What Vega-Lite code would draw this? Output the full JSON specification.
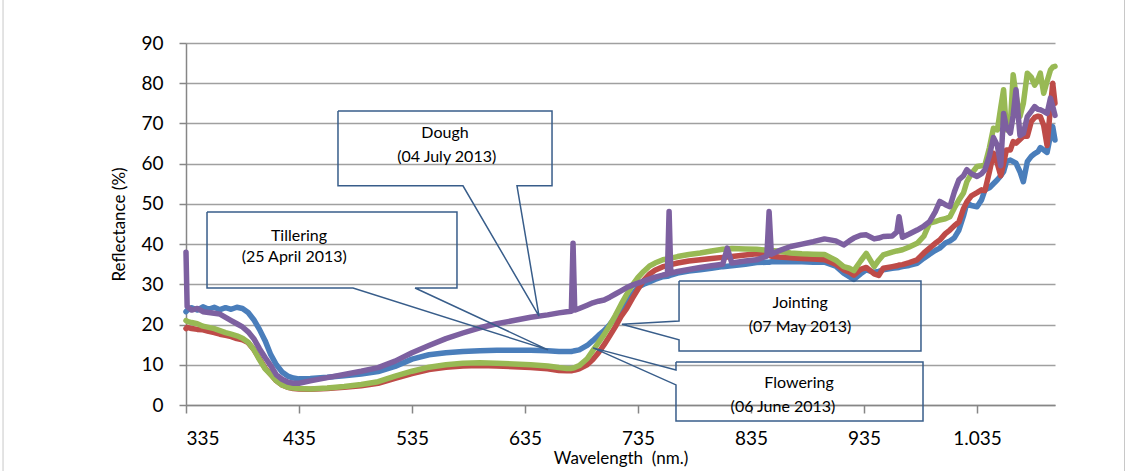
{
  "$schema": "https://vega.github.io/schema/vega-lite/v6.json",
  "width": 869,
  "height": 362,
  "autosize": {"type": "none"},
  "padding": {"left": 186, "top": 43, "right": 73, "bottom": 66},
  "background": "white",
  "config": {"view": {"stroke": null}, "font": "Lato"},
  "datasets": {
    "spectra": [
      {"w":335,"Tillering":23.2,"Jointing":19.0,"Flowering":21.0,"Dough":38.0},
      {"w":336,"Tillering":23.5,"Jointing":19.3,"Flowering":20.8,"Dough":24.5},
      {"w":340,"Tillering":24.2,"Jointing":19.0,"Flowering":20.5,"Dough":23.6},
      {"w":345,"Tillering":23.6,"Jointing":18.8,"Flowering":20.2,"Dough":24.0},
      {"w":350,"Tillering":24.4,"Jointing":18.7,"Flowering":19.6,"Dough":23.2},
      {"w":355,"Tillering":23.8,"Jointing":18.3,"Flowering":19.3,"Dough":23.0},
      {"w":360,"Tillering":24.3,"Jointing":18.0,"Flowering":19.0,"Dough":22.8},
      {"w":365,"Tillering":23.7,"Jointing":17.6,"Flowering":18.5,"Dough":22.6},
      {"w":370,"Tillering":24.2,"Jointing":17.3,"Flowering":18.0,"Dough":21.8},
      {"w":375,"Tillering":23.8,"Jointing":17.0,"Flowering":17.6,"Dough":21.0},
      {"w":380,"Tillering":24.3,"Jointing":16.5,"Flowering":17.2,"Dough":20.2},
      {"w":385,"Tillering":24.0,"Jointing":16.2,"Flowering":16.6,"Dough":19.4},
      {"w":390,"Tillering":23.0,"Jointing":15.5,"Flowering":15.6,"Dough":18.2},
      {"w":395,"Tillering":21.2,"Jointing":13.8,"Flowering":13.8,"Dough":16.5},
      {"w":400,"Tillering":18.8,"Jointing":11.5,"Flowering":11.3,"Dough":14.0},
      {"w":405,"Tillering":16.0,"Jointing":9.2,"Flowering":9.0,"Dough":11.8},
      {"w":410,"Tillering":12.5,"Jointing":7.6,"Flowering":7.6,"Dough":9.8},
      {"w":415,"Tillering":10.0,"Jointing":6.0,"Flowering":6.0,"Dough":7.5},
      {"w":420,"Tillering":8.2,"Jointing":5.0,"Flowering":5.0,"Dough":6.4},
      {"w":425,"Tillering":7.2,"Jointing":4.4,"Flowering":4.4,"Dough":5.7},
      {"w":430,"Tillering":6.7,"Jointing":4.1,"Flowering":4.2,"Dough":5.4},
      {"w":435,"Tillering":6.5,"Jointing":4.0,"Flowering":4.1,"Dough":5.4},
      {"w":445,"Tillering":6.6,"Jointing":3.9,"Flowering":4.0,"Dough":6.0},
      {"w":460,"Tillering":6.9,"Jointing":4.1,"Flowering":4.2,"Dough":6.8},
      {"w":475,"Tillering":7.3,"Jointing":4.4,"Flowering":4.6,"Dough":7.6},
      {"w":490,"Tillering":7.7,"Jointing":4.8,"Flowering":5.1,"Dough":8.4},
      {"w":505,"Tillering":8.3,"Jointing":5.4,"Flowering":5.8,"Dough":9.3},
      {"w":520,"Tillering":9.6,"Jointing":6.6,"Flowering":7.2,"Dough":10.9},
      {"w":535,"Tillering":11.4,"Jointing":7.8,"Flowering":8.4,"Dough":13.0},
      {"w":550,"Tillering":12.5,"Jointing":8.8,"Flowering":9.4,"Dough":14.8},
      {"w":565,"Tillering":13.0,"Jointing":9.4,"Flowering":10.0,"Dough":16.5},
      {"w":580,"Tillering":13.3,"Jointing":9.7,"Flowering":10.4,"Dough":17.9},
      {"w":595,"Tillering":13.5,"Jointing":9.8,"Flowering":10.5,"Dough":19.2},
      {"w":610,"Tillering":13.6,"Jointing":9.7,"Flowering":10.4,"Dough":20.2},
      {"w":625,"Tillering":13.6,"Jointing":9.5,"Flowering":10.2,"Dough":21.0},
      {"w":640,"Tillering":13.6,"Jointing":9.3,"Flowering":10.0,"Dough":21.8},
      {"w":655,"Tillering":13.5,"Jointing":9.0,"Flowering":9.7,"Dough":22.4},
      {"w":665,"Tillering":13.3,"Jointing":8.6,"Flowering":9.3,"Dough":22.9},
      {"w":672,"Tillering":13.3,"Jointing":8.5,"Flowering":9.1,"Dough":23.2},
      {"w":676,"Tillering":13.3,"Jointing":8.5,"Flowering":9.1,"Dough":23.3},
      {"w":677.5,"Tillering":13.4,"Jointing":8.6,"Flowering":9.2,"Dough":40.2},
      {"w":679,"Tillering":13.5,"Jointing":8.7,"Flowering":9.3,"Dough":23.6},
      {"w":683,"Tillering":13.7,"Jointing":9.0,"Flowering":9.8,"Dough":24.0},
      {"w":690,"Tillering":14.8,"Jointing":10.0,"Flowering":11.5,"Dough":24.8},
      {"w":695,"Tillering":16.0,"Jointing":11.3,"Flowering":13.5,"Dough":25.4},
      {"w":700,"Tillering":17.3,"Jointing":13.0,"Flowering":15.5,"Dough":25.8},
      {"w":705,"Tillering":18.5,"Jointing":15.0,"Flowering":17.5,"Dough":26.1},
      {"w":710,"Tillering":20.0,"Jointing":17.2,"Flowering":19.8,"Dough":26.8},
      {"w":715,"Tillering":21.8,"Jointing":19.5,"Flowering":22.3,"Dough":27.6},
      {"w":720,"Tillering":23.5,"Jointing":22.0,"Flowering":25.0,"Dough":28.4},
      {"w":725,"Tillering":25.3,"Jointing":24.0,"Flowering":27.5,"Dough":29.2},
      {"w":730,"Tillering":27.5,"Jointing":26.5,"Flowering":29.8,"Dough":29.8},
      {"w":735,"Tillering":29.3,"Jointing":28.8,"Flowering":31.7,"Dough":30.3},
      {"w":740,"Tillering":30.0,"Jointing":31.0,"Flowering":33.2,"Dough":30.8},
      {"w":745,"Tillering":30.6,"Jointing":32.5,"Flowering":34.5,"Dough":31.3},
      {"w":750,"Tillering":31.2,"Jointing":33.5,"Flowering":35.3,"Dough":31.8},
      {"w":757,"Tillering":31.9,"Jointing":34.4,"Flowering":36.1,"Dough":32.3},
      {"w":761,"Tillering":32.0,"Jointing":34.6,"Flowering":36.3,"Dough":32.5},
      {"w":762.5,"Tillering":32.1,"Jointing":34.7,"Flowering":36.4,"Dough":48.1},
      {"w":764,"Tillering":32.3,"Jointing":34.9,"Flowering":36.5,"Dough":32.8},
      {"w":770,"Tillering":32.8,"Jointing":35.3,"Flowering":36.9,"Dough":33.2},
      {"w":780,"Tillering":33.3,"Jointing":35.8,"Flowering":37.4,"Dough":33.7},
      {"w":790,"Tillering":33.6,"Jointing":36.1,"Flowering":37.8,"Dough":34.2},
      {"w":800,"Tillering":34.0,"Jointing":36.4,"Flowering":38.3,"Dough":34.6},
      {"w":810,"Tillering":34.4,"Jointing":36.7,"Flowering":38.7,"Dough":35.0},
      {"w":814,"Tillering":34.5,"Jointing":36.8,"Flowering":38.8,"Dough":39.0},
      {"w":818,"Tillering":34.6,"Jointing":36.9,"Flowering":38.9,"Dough":35.3},
      {"w":830,"Tillering":35.0,"Jointing":37.3,"Flowering":38.8,"Dough":35.8},
      {"w":840,"Tillering":35.4,"Jointing":37.6,"Flowering":38.7,"Dough":36.1},
      {"w":849,"Tillering":35.5,"Jointing":37.4,"Flowering":38.5,"Dough":37.0},
      {"w":851,"Tillering":35.5,"Jointing":37.2,"Flowering":38.5,"Dough":48.1},
      {"w":853,"Tillering":35.6,"Jointing":37.0,"Flowering":38.4,"Dough":37.5},
      {"w":860,"Tillering":35.6,"Jointing":36.8,"Flowering":38.2,"Dough":38.4},
      {"w":870,"Tillering":35.6,"Jointing":36.6,"Flowering":37.8,"Dough":39.4},
      {"w":880,"Tillering":35.6,"Jointing":36.4,"Flowering":37.6,"Dough":40.0},
      {"w":890,"Tillering":35.5,"Jointing":36.3,"Flowering":37.5,"Dough":40.6},
      {"w":900,"Tillering":35.5,"Jointing":36.1,"Flowering":37.4,"Dough":41.3},
      {"w":910,"Tillering":34.5,"Jointing":35.0,"Flowering":36.0,"Dough":40.8},
      {"w":917,"Tillering":32.8,"Jointing":33.6,"Flowering":34.4,"Dough":39.8},
      {"w":922,"Tillering":31.9,"Jointing":33.0,"Flowering":34.0,"Dough":40.8},
      {"w":926,"Tillering":31.2,"Jointing":32.3,"Flowering":33.4,"Dough":41.5},
      {"w":932,"Tillering":32.6,"Jointing":33.7,"Flowering":35.8,"Dough":42.2},
      {"w":937,"Tillering":33.6,"Jointing":34.2,"Flowering":37.7,"Dough":42.3},
      {"w":944,"Tillering":33.0,"Jointing":32.6,"Flowering":34.4,"Dough":41.3},
      {"w":948,"Tillering":33.2,"Jointing":32.2,"Flowering":36.0,"Dough":41.5},
      {"w":952,"Tillering":33.6,"Jointing":34.0,"Flowering":37.3,"Dough":41.9},
      {"w":960,"Tillering":34.0,"Jointing":34.4,"Flowering":38.0,"Dough":42.0},
      {"w":964,"Tillering":34.1,"Jointing":34.6,"Flowering":38.3,"Dough":43.0},
      {"w":966,"Tillering":34.2,"Jointing":34.8,"Flowering":38.4,"Dough":46.8},
      {"w":969,"Tillering":34.4,"Jointing":34.9,"Flowering":38.6,"Dough":41.7},
      {"w":975,"Tillering":34.7,"Jointing":35.4,"Flowering":39.3,"Dough":42.5},
      {"w":982,"Tillering":35.2,"Jointing":36.1,"Flowering":40.2,"Dough":43.5},
      {"w":988,"Tillering":36.5,"Jointing":37.8,"Flowering":42.0,"Dough":44.5},
      {"w":993,"Tillering":37.5,"Jointing":39.0,"Flowering":45.2,"Dough":45.6},
      {"w":998,"Tillering":38.4,"Jointing":40.2,"Flowering":45.6,"Dough":48.0},
      {"w":1002,"Tillering":39.0,"Jointing":41.0,"Flowering":46.0,"Dough":50.6},
      {"w":1007,"Tillering":40.3,"Jointing":42.6,"Flowering":46.3,"Dough":49.8},
      {"w":1011,"Tillering":40.8,"Jointing":43.5,"Flowering":46.8,"Dough":49.3},
      {"w":1015,"Tillering":41.6,"Jointing":44.6,"Flowering":49.0,"Dough":53.0},
      {"w":1019,"Tillering":43.5,"Jointing":45.5,"Flowering":51.0,"Dough":56.0},
      {"w":1023,"Tillering":47.0,"Jointing":48.8,"Flowering":52.7,"Dough":57.0},
      {"w":1026,"Tillering":50.2,"Jointing":50.5,"Flowering":55.5,"Dough":58.5},
      {"w":1030,"Tillering":49.6,"Jointing":52.0,"Flowering":57.5,"Dough":57.5},
      {"w":1035,"Tillering":49.3,"Jointing":52.8,"Flowering":59.3,"Dough":56.8},
      {"w":1039,"Tillering":51.0,"Jointing":53.5,"Flowering":59.5,"Dough":57.5},
      {"w":1042,"Tillering":53.5,"Jointing":53.3,"Flowering":59.7,"Dough":58.5},
      {"w":1046,"Tillering":54.0,"Jointing":58.0,"Flowering":64.0,"Dough":62.0},
      {"w":1049.5,"Tillering":55.0,"Jointing":62.6,"Flowering":68.8,"Dough":66.5},
      {"w":1053,"Tillering":56.0,"Jointing":60.0,"Flowering":68.4,"Dough":64.5},
      {"w":1056,"Tillering":57.0,"Jointing":57.0,"Flowering":74.0,"Dough":59.5},
      {"w":1058.5,"Tillering":58.0,"Jointing":60.0,"Flowering":78.4,"Dough":72.5},
      {"w":1061,"Tillering":60.5,"Jointing":63.4,"Flowering":68.4,"Dough":69.0},
      {"w":1064.5,"Tillering":60.9,"Jointing":63.4,"Flowering":70.0,"Dough":67.6},
      {"w":1067,"Tillering":60.5,"Jointing":65.5,"Flowering":82.1,"Dough":72.0},
      {"w":1069.5,"Tillering":60.1,"Jointing":65.1,"Flowering":77.0,"Dough":78.4},
      {"w":1073,"Tillering":58.0,"Jointing":66.0,"Flowering":71.7,"Dough":67.0},
      {"w":1076,"Tillering":55.5,"Jointing":66.8,"Flowering":75.0,"Dough":67.5},
      {"w":1079.5,"Tillering":60.5,"Jointing":66.8,"Flowering":82.5,"Dough":71.7},
      {"w":1083,"Tillering":61.8,"Jointing":70.5,"Flowering":81.5,"Dough":73.0},
      {"w":1086,"Tillering":62.5,"Jointing":71.5,"Flowering":79.5,"Dough":74.2},
      {"w":1089,"Tillering":63.0,"Jointing":71.8,"Flowering":81.0,"Dough":73.5},
      {"w":1091,"Tillering":64.0,"Jointing":71.7,"Flowering":82.5,"Dough":73.4},
      {"w":1094,"Tillering":63.4,"Jointing":69.5,"Flowering":77.5,"Dough":73.0},
      {"w":1097,"Tillering":62.8,"Jointing":64.5,"Flowering":80.5,"Dough":72.5},
      {"w":1100,"Tillering":67.0,"Jointing":74.0,"Flowering":83.3,"Dough":76.3},
      {"w":1102,"Tillering":69.2,"Jointing":80.0,"Flowering":84.0,"Dough":74.2},
      {"w":1104,"Tillering":65.9,"Jointing":75.0,"Flowering":84.2,"Dough":72.0}
    ],
    "callouts": [
      {"c":"Dough","i":0,"w":469.5,"v":73.1},
      {"c":"Dough","i":1,"w":658.9,"v":73.1},
      {"c":"Dough","i":2,"w":658.9,"v":54.5},
      {"c":"Dough","i":3,"w":627.9,"v":54.5},
      {"c":"Dough","i":4,"w":647.4,"v":22.1},
      {"c":"Dough","i":5,"w":580.1,"v":54.5},
      {"c":"Dough","i":6,"w":469.5,"v":54.5},
      {"c":"Dough","i":7,"w":469.5,"v":73.1},
      {"c":"Tillering","i":0,"w":353.6,"v":48.0},
      {"c":"Tillering","i":1,"w":574.8,"v":48.0},
      {"c":"Tillering","i":2,"w":574.8,"v":29.1},
      {"c":"Tillering","i":3,"w":537.7,"v":29.1},
      {"c":"Tillering","i":4,"w":655.4,"v":13.7},
      {"c":"Tillering","i":5,"w":482.8,"v":29.1},
      {"c":"Tillering","i":6,"w":353.6,"v":29.1},
      {"c":"Tillering","i":7,"w":353.6,"v":48.0},
      {"c":"Jointing","i":0,"w":771.3,"v":30.8},
      {"c":"Jointing","i":1,"w":985.4,"v":30.8},
      {"c":"Jointing","i":2,"w":985.4,"v":13.4},
      {"c":"Jointing","i":3,"w":771.3,"v":13.4},
      {"c":"Jointing","i":4,"w":771.3,"v":16.2},
      {"c":"Jointing","i":5,"w":720.8,"v":20.1},
      {"c":"Jointing","i":6,"w":771.3,"v":20.9},
      {"c":"Jointing","i":7,"w":771.3,"v":30.8},
      {"c":"Flowering","i":0,"w":768.6,"v":10.7},
      {"c":"Flowering","i":1,"w":987.2,"v":10.7},
      {"c":"Flowering","i":2,"w":987.2,"v":-4.0},
      {"c":"Flowering","i":3,"w":768.6,"v":-4.0},
      {"c":"Flowering","i":4,"w":768.6,"v":5.0},
      {"c":"Flowering","i":5,"w":695.2,"v":14.2},
      {"c":"Flowering","i":6,"w":768.6,"v":8.7},
      {"c":"Flowering","i":7,"w":768.6,"v":10.7}
    ],
    "labels": [
      {"w":564.2,"v":67.7,"t":"Dough"},
      {"w":565.7,"v":61.7,"t":"(04 July 2013)"},
      {"w":435.0,"v":42.0,"t":"Tillering"},
      {"w":430.8,"v":36.7,"t":"(25 April 2013)"},
      {"w":878.4,"v":25.4,"t":"Jointing"},
      {"w":878.4,"v":19.5,"t":"(07 May 2013)"},
      {"w":877.5,"v":5.4,"t":"Flowering"},
      {"w":863.3,"v":-0.4,"t":"(06 June 2013)"}
    ],
    "frame": [
      {"w1":173.1,"w2":1165.5,"v1":101.2,"v2":-16.9}
    ]
  },
  "layer": [
    {
      "data": {"name": "frame"},
      "mark": {"type": "rect", "fill": null, "stroke": "#c8c8c8", "strokeWidth": 1, "clip": false},
      "encoding": {
        "x": {"field": "w1", "type": "quantitative"},
        "x2": {"field": "w2"},
        "y": {"field": "v1", "type": "quantitative"},
        "y2": {"field": "v2"}
      }
    },
    {
      "data": {"name": "spectra"},
      "transform": [{"fold": ["Tillering", "Jointing", "Flowering", "Dough"], "as": ["stage", "v"]}],
      "mark": {"type": "line", "strokeWidth": 5.5, "strokeCap": "round", "strokeJoin": "round"},
      "encoding": {
        "x": {
          "field": "w", "type": "quantitative",
          "scale": {"domain": [335, 1104], "nice": false, "zero": false},
          "axis": {
            "values": [335, 435, 535, 635, 735, 835, 935, 1035],
            "labelExpr": "replace(format(datum.value, ','), ',', '.')",
            "title": "Wavelength\u00a0 (nm.)",
            "grid": false,
            "labelFont": "Lato", "labelFontSize": 19, "labelColor": "#000000",
            "labelPadding": 16,
            "titleFont": "Lato", "titleFontSize": 17, "titleFontWeight": "normal", "titleColor": "#000000",
            "titlePadding": 2,
            "domainColor": "#868686", "domainWidth": 1.5,
            "tickColor": "#868686", "tickWidth": 1.5, "tickSize": 8
          }
        },
        "y": {
          "field": "v", "type": "quantitative",
          "scale": {"domain": [0, 90], "nice": false, "zero": false},
          "axis": {
            "values": [0, 10, 20, 30, 40, 50, 60, 70, 80, 90],
            "title": "Reflectance (%)",
            "grid": true, "gridColor": "#a0a0a0", "gridWidth": 1.5,
            "labelFont": "Lato", "labelFontSize": 19, "labelColor": "#000000",
            "labelPadding": 16,
            "titleFont": "Lato", "titleFontSize": 17, "titleFontWeight": "normal", "titleColor": "#000000",
            "titlePadding": 12,
            "domainColor": "#868686", "domainWidth": 1.5,
            "tickColor": "#868686", "tickWidth": 1.5, "tickSize": 7
          }
        },
        "color": {
          "field": "stage", "type": "nominal",
          "scale": {"domain": ["Tillering", "Jointing", "Flowering", "Dough"], "range": ["#4a7ebb", "#be4b48", "#98b954", "#7d60a0"]},
          "legend": null
        }
      }
    },
    {
      "data": {"name": "callouts"},
      "mark": {"type": "line", "stroke": "#385d8a", "strokeWidth": 1.5, "clip": false},
      "encoding": {
        "x": {"field": "w", "type": "quantitative"},
        "y": {"field": "v", "type": "quantitative"},
        "detail": {"field": "c"},
        "order": {"field": "i", "type": "quantitative"}
      }
    },
    {
      "data": {"name": "labels"},
      "mark": {"type": "text", "font": "Lato", "fontSize": 16, "color": "#000000", "baseline": "middle", "align": "center", "clip": false},
      "encoding": {
        "x": {"field": "w", "type": "quantitative"},
        "y": {"field": "v", "type": "quantitative"},
        "text": {"field": "t"}
      }
    }
  ]
}
